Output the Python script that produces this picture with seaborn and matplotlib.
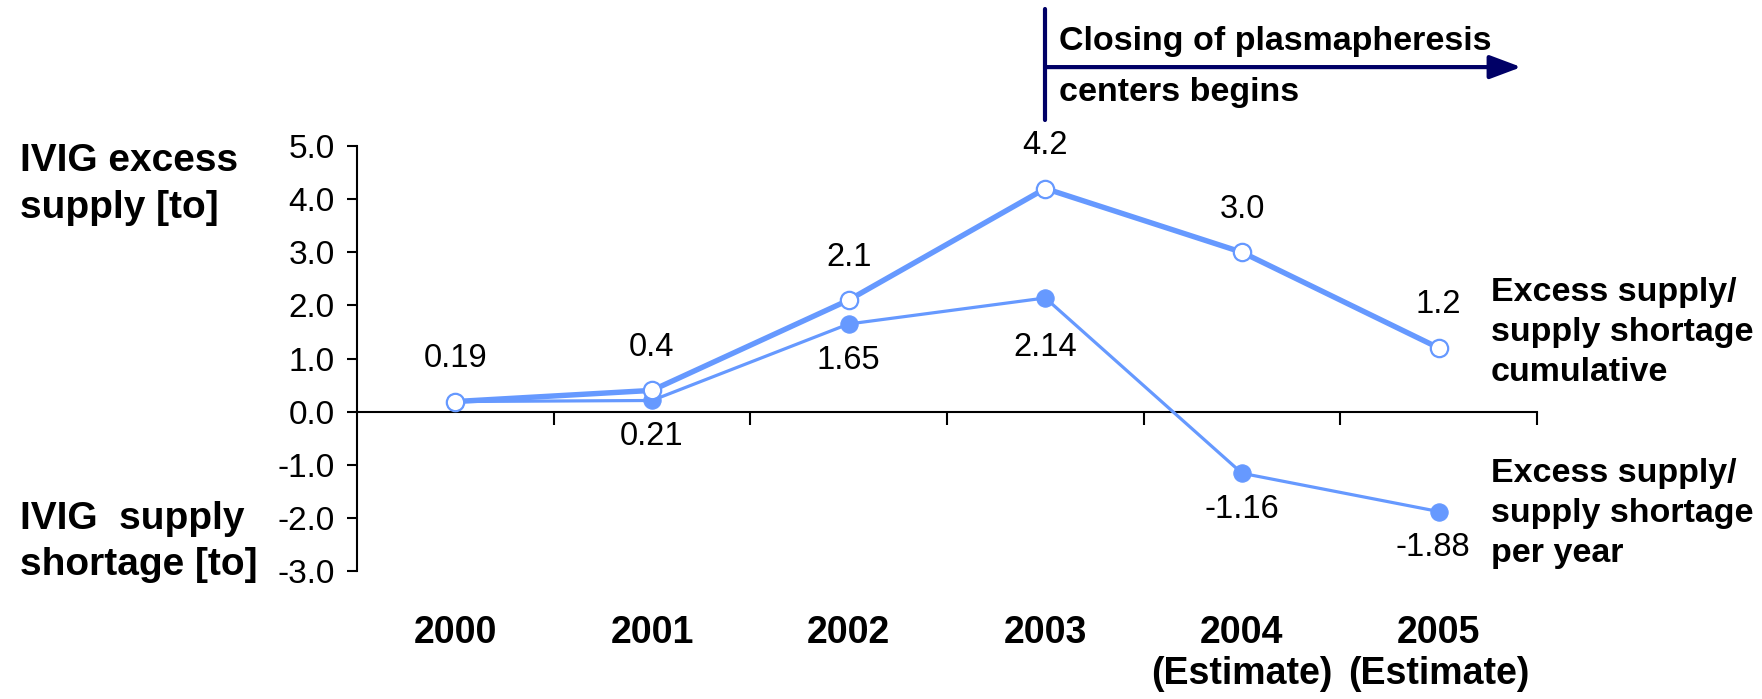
import numpy as np
import pandas as pd
import matplotlib
matplotlib.use("Agg")
import matplotlib.pyplot as plt
import matplotlib.transforms as mtransforms
import seaborn as sns

# chart values
years = ["2000", "2001", "2002", "2003", "2004", "2005"]
year_notes = ["", "", "", "", "(Estimate)", "(Estimate)"]
cumulative = [0.19, 0.4, 2.1, 4.2, 3.0, 1.2]
per_year = [0.19, 0.21, 1.65, 2.14, -1.16, -1.88]
cumulative_labels = ["0.19", "0.4", "2.1", "4.2", "3.0", "1.2"]
per_year_labels = ["", "0.21", "1.65", "2.14", "-1.16", "-1.88"]
y_ticks = [5.0, 4.0, 3.0, 2.0, 1.0, 0.0, -1.0, -2.0, -3.0]

BLUE = "#6699FF"
NAVY = "#000066"

sns.set_theme(style="white")
plt.rcParams["font.family"] = ["Liberation Sans", "DejaVu Sans"]
plt.rcParams["text.color"] = "black"
plt.rcParams["xtick.color"] = "black"
plt.rcParams["ytick.color"] = "black"

df = pd.DataFrame({"pos": np.arange(len(years)),
                   "cumulative": cumulative,
                   "per_year": per_year})

fig = plt.figure(figsize=(17.62, 6.99), dpi=100)
ax = fig.add_axes([0.2026, 0.1831, 0.6697, 0.608])

sns.lineplot(data=df, x="pos", y="per_year", ax=ax, color=BLUE, lw=2.3,
             marker="o", markersize=12.5, markerfacecolor=BLUE,
             markeredgecolor=BLUE, zorder=3)
sns.lineplot(data=df, x="pos", y="cumulative", ax=ax, color=BLUE, lw=3.9,
             marker="o", markersize=12.5, markerfacecolor="white",
             markeredgecolor=BLUE, markeredgewidth=1.6, zorder=4)

ax.set_xlim(-0.5, len(years) - 0.5)
ax.set_ylim(-3, 5)
ax.set_xlabel("")
ax.set_ylabel("")

# spines
for s in ["top", "right"]:
    ax.spines[s].set_visible(False)
ax.spines["bottom"].set_position(("data", 0))
for s in ["left", "bottom"]:
    ax.spines[s].set_color("black")
    ax.spines[s].set_linewidth(1.5)

ax.set_yticks(y_ticks)
ax.set_yticklabels([f"{v:.1f}" for v in y_ticks], fontsize=24)
ax.tick_params(axis="y", direction="out", length=7, width=1.5, pad=9,
               left=True, colors="black")
ax.set_xticks(np.arange(len(years)) + 0.5)
ax.set_xticklabels([])
ax.tick_params(axis="x", direction="out", length=9, width=1.5, bottom=True)
ax.grid(False)

# data labels
for i, (v, lab) in enumerate(zip(cumulative, cumulative_labels)):
    ax.annotate(lab, (i, v), xytext=(0, 31), textcoords="offset points",
                ha="center", va="center", fontsize=23.5)
for i, (v, lab) in enumerate(zip(per_year, per_year_labels)):
    dy = -36 if lab == "2.14" else -26
    dx = -4 if lab == "-1.88" else 0
    ax.annotate(lab, (i, v), xytext=(dx, dy), textcoords="offset points",
                ha="center", va="center", fontsize=23.5)

# category labels below the chart
trans = mtransforms.blended_transform_factory(ax.transData, fig.transFigure)
for i, (yr, note) in enumerate(zip(years, year_notes)):
    ax.text(i, 0.095, yr, transform=trans, ha="center", va="center",
            fontsize=27, fontweight="bold")
    if note:
        ax.text(i, 0.036, note, transform=trans, ha="center", va="center",
                fontsize=27, fontweight="bold")

# left side captions
fig.text(0.0114, 0.736, "IVIG excess\nsupply [to]", ha="left", va="center",
         fontsize=28, fontweight="bold", linespacing=1.4)
fig.text(0.0114, 0.2246, "IVIG  supply\nshortage [to]", ha="left",
         va="center", fontsize=28, fontweight="bold", linespacing=1.35)

# right side series captions
fig.text(0.846, 0.524, "Excess supply/\nsupply shortage\ncumulative",
         ha="left", va="center", fontsize=24.5, fontweight="bold",
         linespacing=1.38)
fig.text(0.846, 0.2654, "Excess supply/\nsupply shortage\nper year",
         ha="left", va="center", fontsize=24.5, fontweight="bold",
         linespacing=1.38)

# closing arrow annotation
ax.plot([3, 3], [0.828, 0.987], transform=trans, color=NAVY, lw=3,
        clip_on=False, solid_capstyle="round")
ax.annotate("", xy=(5.42, 0.904), xycoords=trans, xytext=(3, 0.904),
            textcoords=trans,
            arrowprops=dict(arrowstyle="-|>,head_length=1.6,head_width=0.6",
                            color=NAVY, lw=3, shrinkA=0, shrinkB=0))
ax.text(3.07, 0.9405, "Closing of plasmapheresis", transform=trans,
        ha="left", va="center", fontsize=24.5, fontweight="bold")
ax.text(3.07, 0.868, "centers begins", transform=trans,
        ha="left", va="center", fontsize=24.5, fontweight="bold")

fig.savefig("out.png", dpi=100, facecolor="white")
